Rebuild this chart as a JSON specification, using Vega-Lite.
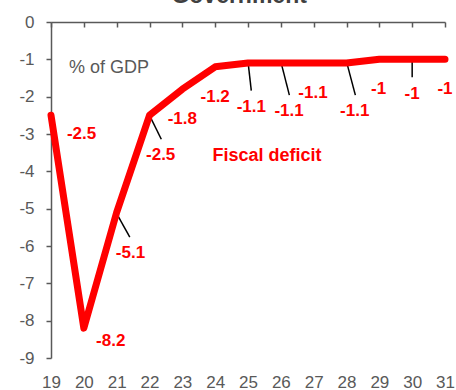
{
  "$schema": "https://vega.github.io/schema/vega-lite/v6.json",
  "width": 394,
  "height": 336,
  "autosize": {"type": "none"},
  "padding": {"left": 51, "top": 22, "right": 11, "bottom": 32},
  "background": "white",
  "config": {"view": {"stroke": null}, "font": "Liberation Sans"},
  "datasets": {
    "series": [
      {"year": 19, "value": -2.5}, {"year": 20, "value": -8.2}, {"year": 21, "value": -5.1},
      {"year": 22, "value": -2.5}, {"year": 23, "value": -1.8}, {"year": 24, "value": -1.2},
      {"year": 25, "value": -1.1}, {"year": 26, "value": -1.1}, {"year": 27, "value": -1.1},
      {"year": 28, "value": -1.1}, {"year": 29, "value": -1}, {"year": 30, "value": -1},
      {"year": 31, "value": -1}
    ],
    "labels": [
      {"x": 19.93, "y": -3.0, "t": "-2.5"},
      {"x": 20.82, "y": -8.54, "t": "-8.2"},
      {"x": 21.42, "y": -6.19, "t": "-5.1"},
      {"x": 22.34, "y": -3.55, "t": "-2.5"},
      {"x": 23.0, "y": -2.6, "t": "-1.8"},
      {"x": 24.0, "y": -2.02, "t": "-1.2"},
      {"x": 25.1, "y": -2.29, "t": "-1.1"},
      {"x": 26.25, "y": -2.39, "t": "-1.1"},
      {"x": 26.98, "y": -1.9, "t": "-1.1"},
      {"x": 28.25, "y": -2.39, "t": "-1.1"},
      {"x": 28.98, "y": -1.8, "t": "-1"},
      {"x": 30.0, "y": -1.93, "t": "-1"},
      {"x": 31.0, "y": -1.8, "t": "-1"}
    ],
    "leaders": [
      {"x": 21.0, "y": -5.13, "x2": 21.4, "y2": -5.76},
      {"x": 22.0, "y": -2.5, "x2": 22.36, "y2": -3.14},
      {"x": 25.0, "y": -1.06, "x2": 25.1, "y2": -1.84},
      {"x": 26.0, "y": -1.06, "x2": 26.26, "y2": -1.96},
      {"x": 28.0, "y": -1.06, "x2": 28.27, "y2": -1.96},
      {"x": 30.0, "y": -1.0, "x2": 30.0, "y2": -1.48}
    ],
    "notes": [
      {"x": 19.55, "y": -1.23, "t": "% of GDP", "kind": "unit"},
      {"x": 23.92, "y": -3.59, "t": "Fiscal deficit", "kind": "series"},
      {"x": 24.73, "y": 0.5, "t": "Government", "kind": "title"}
    ]
  },
  "resolve": {"axis": {"x": "independent"}},
  "layer": [
    {
      "data": {"name": "leaders"},
      "mark": {"type": "rule", "color": "black", "strokeWidth": 1.5},
      "encoding": {
        "x": {"field": "x", "type": "quantitative", "scale": {"domain": [19, 31], "nice": false, "zero": false},
              "axis": {"orient": "top", "labels": false, "title": null, "grid": false, "values": [19,20,21,22,23,24,25,26,27,28,29,30,31], "tickSize": -5, "tickColor": "#595959", "tickWidth": 1.5, "domainColor": "#595959", "domainWidth": 1.5}},
        "y": {"field": "y", "type": "quantitative", "scale": {"domain": [-9, 0], "nice": false, "zero": false},
              "axis": {"title": null, "grid": false, "values": [-9,-8,-7,-6,-5,-4,-3,-2,-1,0], "tickCount": 10, "labelExpr": "'' + datum.value", "labelOverlap": false, "labelFlush": false, "tickSize": 5, "tickColor": "#595959", "tickWidth": 1.5, "domainColor": "#595959", "domainWidth": 1.5, "labelFontSize": 17, "labelColor": "#595959", "labelPadding": 12, "labelFont": "Liberation Sans"}},
        "x2": {"field": "x2"},
        "y2": {"field": "y2"}
      }
    },
    {
      "data": {"name": "series"},
      "mark": {"type": "line", "color": "#ff0000", "strokeWidth": 7, "strokeCap": "round", "strokeJoin": "round"},
      "encoding": {
        "x": {"field": "year", "type": "quantitative",
              "axis": {"orient": "bottom", "domain": false, "ticks": false, "tickSize": 0, "grid": false, "title": null, "values": [19,20,21,22,23,24,25,26,27,28,29,30,31], "labelFontSize": 17, "labelColor": "#595959", "labelPadding": 16, "labelFont": "Liberation Sans", "labelFlush": false, "labelOverlap": false}},
        "y": {"field": "value", "type": "quantitative",
              "axis": {"title": null, "grid": false, "values": [-9,-8,-7,-6,-5,-4,-3,-2,-1,0], "tickCount": 10, "labelExpr": "'' + datum.value", "labelOverlap": false, "labelFlush": false, "tickSize": 5, "tickColor": "#595959", "tickWidth": 1.5, "domainColor": "#595959", "domainWidth": 1.5, "labelFontSize": 17, "labelColor": "#595959", "labelPadding": 12, "labelFont": "Liberation Sans"}}
      }
    },
    {
      "data": {"name": "labels"},
      "mark": {"type": "text", "color": "#ff0000", "fontSize": 17, "fontWeight": "bold", "align": "center", "baseline": "middle", "font": "Liberation Sans"},
      "encoding": {
        "x": {"field": "x", "type": "quantitative", "axis": null},
        "y": {"field": "y", "type": "quantitative"},
        "text": {"field": "t"}
      }
    },
    {
      "data": {"name": "notes"},
      "transform": [{"filter": "datum.kind == 'unit'"}],
      "mark": {"type": "text", "color": "#595959", "fontSize": 18, "align": "left", "baseline": "middle", "font": "Liberation Sans"},
      "encoding": {
        "x": {"field": "x", "type": "quantitative", "axis": null},
        "y": {"field": "y", "type": "quantitative"},
        "text": {"field": "t"}
      }
    },
    {
      "data": {"name": "notes"},
      "transform": [{"filter": "datum.kind == 'series'"}],
      "mark": {"type": "text", "color": "#ff0000", "fontSize": 18, "fontWeight": "bold", "align": "left", "baseline": "middle", "font": "Liberation Sans"},
      "encoding": {
        "x": {"field": "x", "type": "quantitative", "axis": null},
        "y": {"field": "y", "type": "quantitative"},
        "text": {"field": "t"}
      }
    },
    {
      "data": {"name": "notes"},
      "transform": [{"filter": "datum.kind == 'title'"}],
      "mark": {"type": "text", "color": "#404040", "fontSize": 23, "fontWeight": "bold", "align": "center", "baseline": "alphabetic", "font": "Liberation Sans"},
      "encoding": {
        "x": {"field": "x", "type": "quantitative", "axis": null},
        "y": {"field": "y", "type": "quantitative"},
        "text": {"field": "t"}
      }
    }
  ]
}
